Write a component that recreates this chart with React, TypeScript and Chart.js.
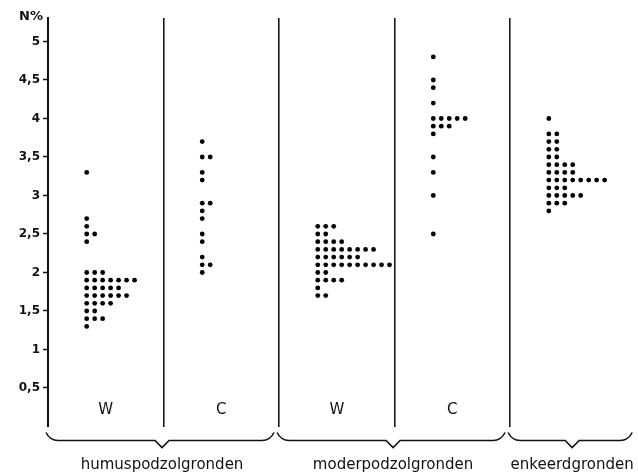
import React, { useEffect, useRef } from "react";
import { Chart, registerables } from "chart.js";

Chart.register(...registerables);

// Panel labels (columns) and the soil groups that span them
const panelLabels = ["W", "C", "W", "C", ""];
const groupLabels = ["humuspodzolgronden", "moderpodzolgronden", "enkeerdgronden"];
const groupSpans: [number, number][] = [[0, 2], [2, 4], [4, 5.1]];

// N% values (rows) and number of samples (dots) per row, per panel
const humusWValues = [3.3, 2.7, 2.6, 2.5, 2.4, 2.0, 1.9, 1.8, 1.7, 1.6, 1.5, 1.4, 1.3];
const humusWCounts = [1, 1, 1, 2, 1, 3, 7, 5, 6, 4, 2, 3, 1];

const humusCValues = [3.7, 3.5, 3.3, 3.2, 2.9, 2.8, 2.7, 2.5, 2.4, 2.2, 2.1, 2.0];
const humusCCounts = [1, 2, 1, 1, 2, 1, 1, 1, 1, 1, 2, 1];

const moderWValues = [2.6, 2.5, 2.4, 2.3, 2.2, 2.1, 2.0, 1.9, 1.8, 1.7];
const moderWCounts = [3, 2, 4, 8, 6, 10, 2, 4, 1, 2];

const moderCValues = [4.8, 4.5, 4.4, 4.2, 4.0, 3.9, 3.8, 3.5, 3.3, 3.0, 2.5];
const moderCCounts = [1, 1, 1, 1, 5, 3, 1, 1, 1, 1, 1];

const enkeerdValues = [4.0, 3.8, 3.7, 3.6, 3.5, 3.4, 3.3, 3.2, 3.1, 3.0, 2.9, 2.8];
const enkeerdCounts = [1, 2, 2, 2, 2, 4, 4, 8, 3, 5, 3, 1];

const yTicks = [0.5, 1, 1.5, 2, 2.5, 3, 3.5, 4, 4.5, 5];

const panels = [
  { values: humusWValues, counts: humusWCounts },
  { values: humusCValues, counts: humusCCounts },
  { values: moderWValues, counts: moderWCounts },
  { values: moderCValues, counts: moderCCounts },
  { values: enkeerdValues, counts: enkeerdCounts },
];

const DOT_OFFSET = 0.335; // start of dot column within a panel (panel units)
const DOT_STEP = 0.069; // horizontal step between stacked dots (panel units)

function buildPoints(panelIndex: number, values: number[], counts: number[]) {
  const pts: { x: number; y: number }[] = [];
  values.forEach((v, i) => {
    for (let k = 0; k < counts[i]; k++) {
      pts.push({ x: panelIndex + DOT_OFFSET + k * DOT_STEP, y: v });
    }
  });
  return pts;
}

const decorPlugin = {
  id: "decor",
  afterDraw(chart: any) {
    const { ctx, chartArea } = chart;
    const xs = chart.scales.x;
    const ys = chart.scales.y;
    ctx.save();
    ctx.fillStyle = "#111";
    ctx.strokeStyle = "#111";

    // axis title
    ctx.font = "bold 13px 'DejaVu Sans'";
    ctx.textAlign = "right";
    ctx.textBaseline = "middle";
    ctx.fillText("N%", chartArea.left - 5, chartArea.top - 1);

    // W / C panel labels
    ctx.font = "15px 'DejaVu Sans'";
    ctx.textAlign = "center";
    ctx.textBaseline = "middle";
    panelLabels.forEach((lab, i) => {
      if (!lab) return;
      ctx.fillText(lab, xs.getPixelForValue(i + 0.5), ys.getPixelForValue(0.21));
    });

    // braces
    const bottom = chartArea.bottom;
    const yTop = bottom + 6;
    const yMid = bottom + 14;
    const yTip = bottom + 21;
    ctx.lineWidth = 1.6;
    groupSpans.forEach(([a, b], gi) => {
      const x0 = xs.getPixelForValue(a) - 2;
      const x1 = xs.getPixelForValue(b) - 5;
      const tip = (x0 + x1) / 2 + 2;
      ctx.beginPath();
      ctx.moveTo(x0, yTop);
      ctx.quadraticCurveTo(x0 + 4, yMid, x0 + 12, yMid);
      ctx.lineTo(tip - 7, yMid);
      ctx.lineTo(tip, yTip);
      ctx.lineTo(tip + 7, yMid);
      ctx.lineTo(x1 - 12, yMid);
      ctx.quadraticCurveTo(x1 - 4, yMid, x1, yTop);
      ctx.stroke();

      ctx.font = "15px 'DejaVu Sans'";
      ctx.textAlign = "center";
      ctx.textBaseline = "middle";
      ctx.fillText(groupLabels[gi], tip, bottom + 39);
    });
    ctx.restore();
  },
};

export default function App() {
  const ref = useRef<HTMLCanvasElement | null>(null);

  useEffect(() => {
    document.body.style.margin = "0";
    const canvas = ref.current;
    if (!canvas) return;
    const chart = new Chart(canvas, {
      type: "scatter",
      data: {
        datasets: panels.map((p, i) => ({
          label: String(i),
          data: buildPoints(i, p.values, p.counts),
          backgroundColor: "#000",
          borderWidth: 0,
          pointRadius: 2.4,
          pointHoverRadius: 2.4,
        })),
      },
      options: {
        responsive: false,
        animation: false,
        events: [],
        layout: { padding: { top: 18, bottom: 48.5, left: 0, right: 0 } },
        plugins: {
          legend: { display: false },
          tooltip: { enabled: false },
        },
        scales: {
          x: {
            type: "linear",
            min: 0,
            max: 590 / 116,
            afterBuildTicks: (scale: any) => {
              scale.ticks = [1, 2, 3, 4].map((v) => ({ value: v }));
            },
            afterFit: (scale: any) => {
              scale.height = 0;
            },
            ticks: { display: false },
            border: { display: false },
            grid: {
              color: "#1a1a1a",
              lineWidth: 1.6,
              drawTicks: false,
            },
          },
          y: {
            type: "linear",
            min: 0,
            max: 5.305,
            afterBuildTicks: (scale: any) => {
              scale.ticks = yTicks.map((v) => ({ value: v }));
            },
            afterFit: (scale: any) => {
              scale.width = 48;
            },
            ticks: {
              color: "#111",
              padding: 3,
              font: { family: "'DejaVu Sans'", size: 12, weight: "bold" },
              callback: (v: any) => String(v).replace(".", ","),
            },
            border: { display: true, color: "#111", width: 2 },
            grid: {
              drawOnChartArea: false,
              drawTicks: true,
              tickLength: 5,
              tickColor: "#111",
              tickWidth: 1.5,
            },
          },
        },
      },
      plugins: [decorPlugin],
    });
    return () => chart.destroy();
  }, []);

  return <canvas ref={ref} width={638} height={475} style={{ display: "block" }} />;
}
